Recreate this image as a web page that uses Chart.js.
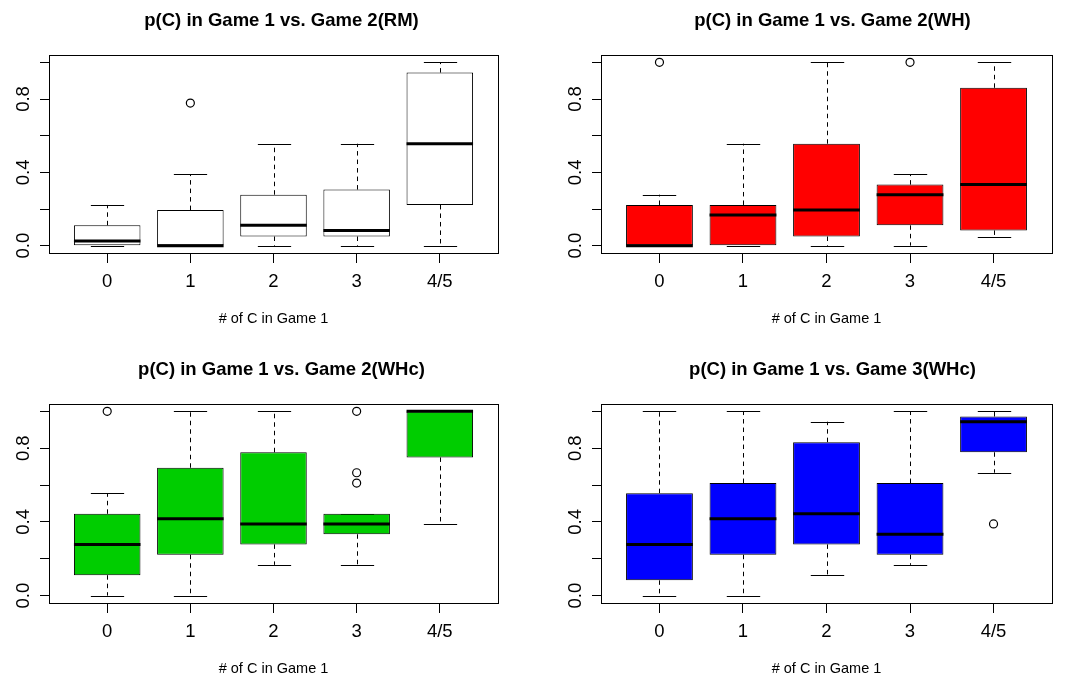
<!DOCTYPE html>
<html><head><meta charset="utf-8">
<script src="https://cdn.jsdelivr.net/npm/chart.js@4/dist/chart.umd.min.js"></script>
<style>
html,body{margin:0;padding:0;background:#fff;overflow:hidden;width:1072px;height:680px;position:relative}
canvas{position:absolute}
</style></head><body>
<canvas id="c1" width="563" height="340" style="left:0px;top:0px"></canvas>
<canvas id="c2" width="593" height="340" style="left:536px;top:0px"></canvas>
<canvas id="c3" width="563" height="340" style="left:0px;top:340px"></canvas>
<canvas id="c4" width="593" height="340" style="left:536px;top:340px"></canvas>
<script>
// ---- data ----
const categories = ['0', '1', '2', '3', '4/5'];
const yTickValues = [0, 0.2, 0.4, 0.6, 0.8, 1.0];
const yTickLabels = ['0.0', '', '0.4', '', '0.8', ''];
const xAxisTitle = '# of C in Game 1';

// Panel 1: Game 2 (RM)
const rmMin    = [0.000, 0.000, 0.000, 0.000, 0.000];
const rmQ1     = [0.000, 0.000, 0.050, 0.050, 0.222];
const rmMedian = [0.025, 0.000, 0.111, 0.083, 0.556];
const rmQ3     = [0.111, 0.194, 0.278, 0.306, 0.944];
const rmMax    = [0.222, 0.389, 0.556, 0.556, 1.000];
const rmOutliers = [{x: 2, y: 0.778}];

// Panel 2: Game 2 (WH)
const whMin    = [0.000, 0.000, 0.000, 0.000, 0.050];
const whQ1     = [0.000, 0.000, 0.050, 0.111, 0.083];
const whMedian = [0.000, 0.167, 0.194, 0.278, 0.333];
const whQ3     = [0.222, 0.222, 0.556, 0.333, 0.861];
const whMax    = [0.278, 0.556, 1.000, 0.389, 1.000];
const whOutliers = [{x: 1, y: 1.0}, {x: 4, y: 1.0}];

// Panel 3: Game 2 (WHc)
const whcMin    = [0.000, 0.000, 0.167, 0.167, 0.389];
const whcQ1     = [0.111, 0.222, 0.278, 0.333, 0.750];
const whcMedian = [0.278, 0.417, 0.389, 0.389, 1.000];
const whcQ3     = [0.444, 0.694, 0.778, 0.444, 1.000];
const whcMax    = [0.556, 1.000, 1.000, 0.444, 1.000];
const whcOutliers = [{x: 1, y: 1.0}, {x: 4, y: 0.611}, {x: 4, y: 0.667}, {x: 4, y: 1.0}];

// Panel 4: Game 3 (WHc)
const g3Min    = [0.000, 0.000, 0.111, 0.167, 0.667];
const g3Q1     = [0.083, 0.222, 0.278, 0.222, 0.778];
const g3Median = [0.278, 0.417, 0.444, 0.333, 0.944];
const g3Q3     = [0.556, 0.611, 0.833, 0.611, 0.972];
const g3Max    = [1.000, 1.000, 0.944, 1.000, 1.000];
const g3Outliers = [{x: 5, y: 0.389}];

// ---- drawing ----
const FONT = "'Liberation Sans', Arial, Helvetica, sans-serif";
Chart.defaults.font.family = FONT;
Chart.defaults.color = '#000';

function boxExtrasPlugin(mins, q1s, meds, q3s, maxs) {
  function seg(ctx, x1, y1, x2, y2) { ctx.beginPath(); ctx.moveTo(x1, y1); ctx.lineTo(x2, y2); ctx.stroke(); }
  return {
    id: 'boxExtras',
    beforeDatasetsDraw(chart) {
      const ctx = chart.ctx, y = chart.scales.y;
      const meta = chart.getDatasetMeta(0);
      ctx.save();
      ctx.strokeStyle = '#000';
      ctx.lineWidth = 1;
      meta.data.forEach((bar, i) => {
        const x = Math.round(bar.x) + 0.5;
        const half = bar.width / 4;
        const yq1 = y.getPixelForValue(q1s[i]), yq3 = y.getPixelForValue(q3s[i]);
        const ymin = y.getPixelForValue(mins[i]), ymax = y.getPixelForValue(maxs[i]);
        ctx.setLineDash([4.5, 4]);
        if (maxs[i] > q3s[i]) seg(ctx, x, yq3, x, ymax);
        if (mins[i] < q1s[i]) seg(ctx, x, yq1, x, ymin);
        ctx.setLineDash([]);
        const ya = Math.round(ymax) + 0.5, yb = Math.round(ymin) + 0.5;
        seg(ctx, x - half, ya, x + half, ya);
        seg(ctx, x - half, yb, x + half, yb);
      });
      ctx.restore();
    },
    afterDatasetsDraw(chart) {
      const ctx = chart.ctx, y = chart.scales.y, a = chart.chartArea;
      const meta = chart.getDatasetMeta(0);
      ctx.save();
      ctx.strokeStyle = '#000';
      ctx.lineWidth = 3;
      meta.data.forEach((bar, i) => {
        const ym = y.getPixelForValue(meds[i]);
        seg(ctx, bar.x - bar.width / 2, ym, bar.x + bar.width / 2, ym);
      });
      ctx.lineWidth = 1;
      ctx.strokeRect(Math.round(a.left) + 0.5, Math.round(a.top) + 0.5,
                     Math.round(a.right) - Math.round(a.left), Math.round(a.bottom) - Math.round(a.top));
      ctx.restore();
    }
  };
}

function makePanel(id, title, fill, mins, q1s, meds, q3s, maxs, outliers, lay) {
  const boxes = categories.map((c, i) => ({x: i + 1, y: [q1s[i], q3s[i]]}));
  return new Chart(document.getElementById(id), {
    type: 'bar',
    data: {
      datasets: [
        {
          type: 'bar', data: boxes, backgroundColor: fill, borderColor: '#000',
          borderWidth: 1, borderSkipped: false, categoryPercentage: 1.0, barPercentage: 0.8, order: 2
        },
        {
          type: 'scatter', data: outliers, pointStyle: 'circle', pointRadius: 4,
          pointBorderWidth: 1.2, pointBorderColor: '#000', pointBackgroundColor: 'rgba(0,0,0,0)', order: 1
        }
      ]
    },
    options: {
      responsive: false, animation: false, devicePixelRatio: 1,
      layout: {padding: {left: 0, right: 0, top: 0, bottom: 0}},
      plugins: {
        legend: {display: false}, tooltip: {enabled: false},
        title: {
          display: true, text: title, color: '#000',
          font: {size: 18.5, weight: 'bold', family: FONT, lineHeight: 1.2},
          padding: {top: lay.titleTop, bottom: lay.titleBottom}
        }
      },
      scales: {
        x: {
          type: 'linear', min: 0.3, max: 5.7, bounds: 'data', offset: false,
          afterBuildTicks: s => { s.ticks = categories.map((c, i) => ({value: i + 1})); },
          ticks: {
            autoSkip: false, maxRotation: 0, minRotation: 0, padding: 8, color: '#000',
            font: {size: 18.5, family: FONT},
            callback: v => categories[Math.round(v) - 1] ?? ''
          },
          grid: {display: true, drawOnChartArea: false, drawTicks: true, tickLength: 10, color: '#000', offset: false},
          border: {display: false},
          title: {display: true, text: xAxisTitle, color: '#000', font: {size: 14.5, family: FONT, lineHeight: 1.2},
                  padding: {top: 0, bottom: lay.xTitleBottom}},
          afterFit: s => { s.height = lay.xHeight; }
        },
        y: {
          type: 'linear', min: -0.04, max: 1.04, bounds: 'data',
          afterBuildTicks: s => { s.ticks = yTickValues.map(v => ({value: v})); },
          ticks: {
            autoSkip: false, minRotation: 90, maxRotation: 90, crossAlign: 'center', padding: 3, color: '#000',
            font: {size: 18.5, family: FONT},
            callback: (v, i) => yTickLabels[i]
          },
          grid: {display: true, drawOnChartArea: false, drawTicks: true, tickLength: 9, color: '#000'},
          border: {display: false},
          afterFit: s => { s.width = lay.yWidth; }
        },
        // empty right-hand margin (keeps the title centred on the whole figure cell)
        margin: {
          type: 'linear', position: 'right', display: true,
          grid: {display: false}, border: {display: false}, ticks: {display: false},
          afterFit: s => { s.width = lay.rightMargin; }
        }
      }
    },
    plugins: [boxExtrasPlugin(mins, q1s, meds, q3s, maxs)]
  });
}

const topLeft  = {rightMargin: 65, yWidth: 49, titleTop: 9.4, titleBottom: 23.4, xHeight: 87, xTitleBottom: 12.3};
const topRight = {rightMargin: 77, yWidth: 65, titleTop: 9.4, titleBottom: 23.4, xHeight: 87, xTitleBottom: 12.3};
const botLeft  = {rightMargin: 65, yWidth: 49, titleTop: 18.9, titleBottom: 22.9, xHeight: 77, xTitleBottom: 2.0};
const botRight = {rightMargin: 77, yWidth: 65, titleTop: 18.9, titleBottom: 22.9, xHeight: 77, xTitleBottom: 2.0};

makePanel('c1', 'p(C) in Game 1 vs. Game 2(RM)', '#FFFFFF', rmMin, rmQ1, rmMedian, rmQ3, rmMax, rmOutliers, topLeft);
makePanel('c2', 'p(C) in Game 1 vs. Game 2(WH)', '#FF0000', whMin, whQ1, whMedian, whQ3, whMax, whOutliers, topRight);
makePanel('c3', 'p(C) in Game 1 vs. Game 2(WHc)', '#00CD00', whcMin, whcQ1, whcMedian, whcQ3, whcMax, whcOutliers, botLeft);
makePanel('c4', 'p(C) in Game 1 vs. Game 3(WHc)', '#0000FF', g3Min, g3Q1, g3Median, g3Q3, g3Max, g3Outliers, botRight);
</script>
</body></html>
